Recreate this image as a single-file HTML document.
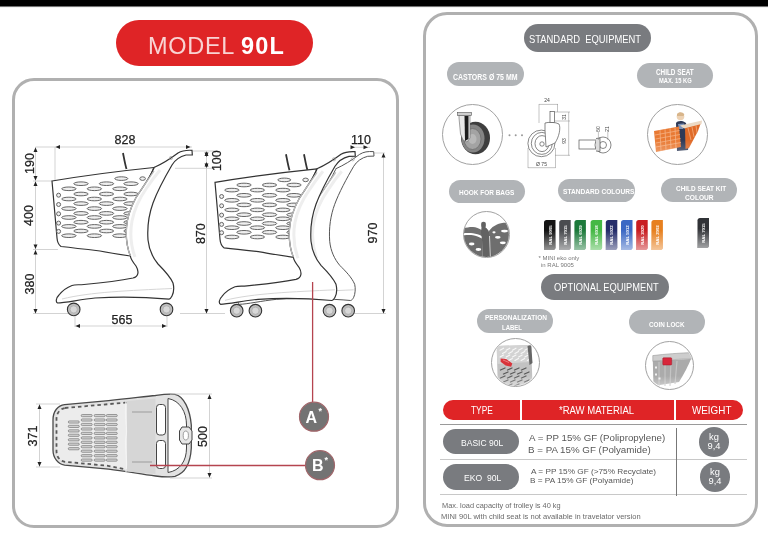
<!DOCTYPE html>
<html><head><meta charset="utf-8">
<style>
*{box-sizing:border-box;margin:0;padding:0}
html,body{width:768px;height:539px;overflow:hidden;background:#fff}
body{position:relative;font-family:"Liberation Sans",sans-serif;will-change:transform}
.a{position:absolute}
.topbar{left:0;top:0;width:768px;height:8px;background:linear-gradient(#000 0,#000 5.6px,#fff 7.6px)}
.title{left:116px;top:20px;width:197px;height:46px;border-radius:23px;background:#df2426;color:#fff;font-size:22px;line-height:47px;text-align:center;white-space:nowrap}
.panel{border:3px solid #b0b0b0}
.pill{display:flex;align-items:center;justify-content:center;text-align:center;color:#fff;white-space:nowrap;border-radius:14px}
.dk{background:#797b7f}
.lt{background:#b1b4b7;color:#f4f4f4}
.circ{border-radius:50%;border:1.8px solid #a2a2a2;background:#fff;overflow:hidden}
.t{white-space:nowrap}
.lb{white-space:nowrap;line-height:1;color:#fff;transform-origin:0 0}
</style></head><body>
<div class="a topbar"></div>
<div class="a title" style="background:#df2426"></div><div class="a t" style="left:148px;top:31px;font-size:23.5px;line-height:30px;color:#fff"><span style="color:rgba(255,255,255,0.8);letter-spacing:0.7px">MODEL</span><span style="margin-left:6px;font-weight:bold;letter-spacing:1.1px">90L</span></div>

<div class="a panel" style="left:12px;top:78px;width:387px;height:450px;border-radius:22px"></div>
<div class="a panel" style="left:423px;top:12px;width:335px;height:515px;border-radius:24px"></div>

<!--TOP-->
<svg class="a" style="left:0;top:0" width="768" height="539" viewBox="0 0 768 539">
<path d="M64.6,404.6 L108.6,400.7 C130,398.5 145,396.5 155.5,395.5 C162,394.5 168,393.5 175,394.3 C184,396 190,410 191.3,425 L191.3,448 C190.5,462 186,473 175,476.3 C168,477.5 162,476.8 155.5,476 C140,474 125,471 108.6,469.1 L64.6,465.2 C58,464 53,458 53,450 L53,420 C53,411 58,405.5 64.6,404.6 Z" fill="#e2e2e2" stroke="#4a4a4a" stroke-width="1.3"/>
<path d="M65,408 L108,404.2 L134,401.8 L134,471 L108,465.8 L65,461.8 C60,461 56.5,457 56.5,451 L56.5,419 C56.5,413 60,409 65,408 Z" fill="#ececec" stroke="#5a5a5a" stroke-width="1.8" stroke-dasharray="3.5 3"/>
<path d="M127,401 L155.5,398.5 L155.5,474 L127,471.5 Z" fill="#d6d6d6"/>
<path d="M126,401 C124,420 128,430 126,436 C124,445 128,460 126,472" fill="none" stroke="#f4f4f4" stroke-width="1.2"/>
<g fill="#d2d2d2" stroke="#666" stroke-width="0.6"><rect x="68.3" y="420.9" width="11" height="2.2" rx="1.1"/><rect x="68.3" y="425.3" width="11" height="2.2" rx="1.1"/><rect x="68.3" y="429.8" width="11" height="2.2" rx="1.1"/><rect x="68.3" y="434.2" width="11" height="2.2" rx="1.1"/><rect x="68.3" y="438.7" width="11" height="2.2" rx="1.1"/><rect x="68.3" y="443.1" width="11" height="2.2" rx="1.1"/><rect x="68.3" y="447.6" width="11" height="2.2" rx="1.1"/><rect x="81.2" y="414.5" width="11" height="2.2" rx="1.1"/><rect x="81.2" y="418.9" width="11" height="2.2" rx="1.1"/><rect x="81.2" y="423.4" width="11" height="2.2" rx="1.1"/><rect x="81.2" y="427.9" width="11" height="2.2" rx="1.1"/><rect x="81.2" y="432.3" width="11" height="2.2" rx="1.1"/><rect x="81.2" y="436.8" width="11" height="2.2" rx="1.1"/><rect x="81.2" y="441.2" width="11" height="2.2" rx="1.1"/><rect x="81.2" y="445.6" width="11" height="2.2" rx="1.1"/><rect x="81.2" y="450.1" width="11" height="2.2" rx="1.1"/><rect x="81.2" y="454.6" width="11" height="2.2" rx="1.1"/><rect x="81.2" y="459.0" width="11" height="2.2" rx="1.1"/><rect x="94.2" y="414.5" width="11" height="2.2" rx="1.1"/><rect x="94.2" y="418.9" width="11" height="2.2" rx="1.1"/><rect x="94.2" y="423.4" width="11" height="2.2" rx="1.1"/><rect x="94.2" y="427.9" width="11" height="2.2" rx="1.1"/><rect x="94.2" y="432.3" width="11" height="2.2" rx="1.1"/><rect x="94.2" y="436.8" width="11" height="2.2" rx="1.1"/><rect x="94.2" y="441.2" width="11" height="2.2" rx="1.1"/><rect x="94.2" y="445.6" width="11" height="2.2" rx="1.1"/><rect x="94.2" y="450.1" width="11" height="2.2" rx="1.1"/><rect x="94.2" y="454.6" width="11" height="2.2" rx="1.1"/><rect x="94.2" y="459.0" width="11" height="2.2" rx="1.1"/><rect x="106.3" y="414.5" width="11" height="2.2" rx="1.1"/><rect x="106.3" y="418.9" width="11" height="2.2" rx="1.1"/><rect x="106.3" y="423.4" width="11" height="2.2" rx="1.1"/><rect x="106.3" y="427.9" width="11" height="2.2" rx="1.1"/><rect x="106.3" y="432.3" width="11" height="2.2" rx="1.1"/><rect x="106.3" y="436.8" width="11" height="2.2" rx="1.1"/><rect x="106.3" y="441.2" width="11" height="2.2" rx="1.1"/><rect x="106.3" y="445.6" width="11" height="2.2" rx="1.1"/><rect x="106.3" y="450.1" width="11" height="2.2" rx="1.1"/><rect x="106.3" y="454.6" width="11" height="2.2" rx="1.1"/><rect x="106.3" y="459.0" width="11" height="2.2" rx="1.1"/></g>
<g fill="#fff" stroke="#444" stroke-width="1">
<rect x="156.5" y="404.5" width="9" height="30.5" rx="3"/>
<rect x="156.5" y="440.5" width="9" height="28" rx="3"/>
<path d="M168,398.5 C180,400.5 186.5,412 186.5,425 L186.5,448 C186.5,461 180,470.5 168,472.5 Z"/>
</g>
<path d="M182,427 L189,427 L192,431 L192,440 L189,444 L182,444 L179.5,440 L179.5,431 Z" fill="#e6e6e6" stroke="#444" stroke-width="1"/>
<ellipse cx="185.8" cy="435.5" rx="2.6" ry="4.5" fill="#fff" stroke="#777" stroke-width="0.7"/>
<g stroke="#777" stroke-width="0.6" fill="none"><path d="M132,412 H152 M132,462 H152"/></g>
</svg>
<!--/TOP-->
<!--DIMS-->
<svg class="a" style="left:0;top:0" width="768" height="539" viewBox="0 0 768 539">
<defs></defs>
<g stroke="#c8c8c8" stroke-width="0.8" fill="none">
<!-- cart1 dims -->
<path d="M35.5,147 H192"/>
<path d="M55,147 V181"/>
<path d="M35.5,147 V313.5"/>
<path d="M33,181 H52"/>
<path d="M33,249.5 H58"/>
<path d="M33,313.5 H72"/>
<path d="M75,310 V327 M167,310 V327"/>
<path d="M75,326 H167"/>
<path d="M193,151 H215 M175,168.3 H215"/>
<path d="M206.5,151 V313.5"/>
<path d="M180,313.5 H225"/>
<!-- cart2 dims -->
<path d="M374,153 H385"/>
<path d="M383.5,153 V313.5"/>
<path d="M352,313.5 H386"/>
<path d="M351,147.3 H370"/>
<!-- top view dims -->
<path d="M39.5,404 V467 M36,404 H60 M36,467 H60"/>
<path d="M209.5,394 V478 M170,394 H212 M170,478 H212"/>
</g>
<g fill="#222">
<g transform="translate(55.5,147) rotate(90)" ><path d="M0,0 L-2,-4.5 L2,-4.5 Z" fill="#222"/></g>
<g transform="translate(190.5,147) rotate(-90)" ><path d="M0,0 L-2,-4.5 L2,-4.5 Z" fill="#222"/></g>
<g transform="translate(35.5,147.5) rotate(180)" ><path d="M0,0 L-2,-4.5 L2,-4.5 Z" fill="#222"/></g>
<g transform="translate(35.5,180.5)" ><path d="M0,0 L-2,-4.5 L2,-4.5 Z" fill="#222"/></g>
<g transform="translate(35.5,181.5) rotate(180)" ><path d="M0,0 L-2,-4.5 L2,-4.5 Z" fill="#222"/></g>
<g transform="translate(35.5,249)" ><path d="M0,0 L-2,-4.5 L2,-4.5 Z" fill="#222"/></g>
<g transform="translate(35.5,250) rotate(180)" ><path d="M0,0 L-2,-4.5 L2,-4.5 Z" fill="#222"/></g>
<g transform="translate(35.5,313.5)" ><path d="M0,0 L-2,-4.5 L2,-4.5 Z" fill="#222"/></g>
<g transform="translate(75.5,326) rotate(90)" ><path d="M0,0 L-2,-4.5 L2,-4.5 Z" fill="#222"/></g>
<g transform="translate(166.5,326) rotate(-90)" ><path d="M0,0 L-2,-4.5 L2,-4.5 Z" fill="#222"/></g>
<g transform="translate(206.5,151.5) rotate(180)" ><path d="M0,0 L-2,-4.5 L2,-4.5 Z" fill="#222"/></g>
<g transform="translate(206.5,157)" ><path d="M0,0 L-2,-4.5 L2,-4.5 Z" fill="#222"/></g>
<g transform="translate(206.5,162) rotate(180)" ><path d="M0,0 L-2,-4.5 L2,-4.5 Z" fill="#222"/></g>
<g transform="translate(206.5,168)" ><path d="M0,0 L-2,-4.5 L2,-4.5 Z" fill="#222"/></g>
<g transform="translate(206.5,313.5)" ><path d="M0,0 L-2,-4.5 L2,-4.5 Z" fill="#222"/></g>
<g transform="translate(383.5,153) rotate(180)" ><path d="M0,0 L-2,-4.5 L2,-4.5 Z" fill="#222"/></g>
<g transform="translate(383.5,313.5)" ><path d="M0,0 L-2,-4.5 L2,-4.5 Z" fill="#222"/></g>
<g transform="translate(355,147.3) rotate(-90)" ><path d="M0,0 L-2,-4.5 L2,-4.5 Z" fill="#222"/></g>
<g transform="translate(368,147.3) rotate(-90)" ><path d="M0,0 L-2,-4.5 L2,-4.5 Z" fill="#222"/></g>
<g transform="translate(39.5,404.5) rotate(180)" ><path d="M0,0 L-2,-4.5 L2,-4.5 Z" fill="#222"/></g>
<g transform="translate(39.5,466.5)" ><path d="M0,0 L-2,-4.5 L2,-4.5 Z" fill="#222"/></g>
<g transform="translate(209.5,394.5) rotate(180)" ><path d="M0,0 L-2,-4.5 L2,-4.5 Z" fill="#222"/></g>
<g transform="translate(209.5,477.5)" ><path d="M0,0 L-2,-4.5 L2,-4.5 Z" fill="#222"/></g>
</g>
<g font-family="Liberation Sans" font-size="12.5" fill="#222" stroke="#222" stroke-width="0.25" text-anchor="middle">
<text x="125" y="144">828</text>
<text x="122" y="324">565</text>
<text x="361" y="144">110</text>
<text transform="translate(33.6,163.5) rotate(-90)">190</text>
<text transform="translate(33.3,215.5) rotate(-90)">400</text>
<text transform="translate(33.5,284) rotate(-90)">380</text>
<text transform="translate(205,233.7) rotate(-90)">870</text>
<text transform="translate(220.5,160.7) rotate(-90)">100</text>
<text transform="translate(376.5,233) rotate(-90)">970</text>
<text transform="translate(36.5,436) rotate(-90)">371</text>
<text transform="translate(206.6,436.5) rotate(-90)">500</text>
</g>
</svg>
<!--/DIMS-->
<!--CARTS-->
<svg class="a" style="left:0;top:0" width="768" height="539" viewBox="0 0 768 539">
<defs>


</defs>
<!-- cart 1 -->
<path d="M123,153 C124,158 125,164 126.5,169" stroke="#333" stroke-width="1.8" fill="none"/>
<g ><g>
<path d="M52,181 Q100,173 154,167.5 L126,230 L130.4,256 Q110,253 100,251 Q75,248 61,246.5 Q57.5,244 57,238 Z" fill="#fff" stroke="#333" stroke-width="1.2"/>
<g fill="#efefef" stroke="#5e5e5e" stroke-width="0.95"><ellipse cx="68.9" cy="188.8" rx="7.2" ry="1.8"/><ellipse cx="94.4" cy="188.8" rx="7.2" ry="1.8"/><ellipse cx="119.9" cy="188.8" rx="7.2" ry="1.8"/><ellipse cx="68.9" cy="199" rx="7.2" ry="1.8"/><ellipse cx="94.4" cy="199" rx="7.2" ry="1.8"/><ellipse cx="119.9" cy="199" rx="7.2" ry="1.8"/><ellipse cx="68.9" cy="208.6" rx="7.2" ry="1.8"/><ellipse cx="94.4" cy="208.6" rx="7.2" ry="1.8"/><ellipse cx="119.9" cy="208.6" rx="7.2" ry="1.8"/><ellipse cx="68.9" cy="217.5" rx="7.2" ry="1.8"/><ellipse cx="94.4" cy="217.5" rx="7.2" ry="1.8"/><ellipse cx="119.9" cy="217.5" rx="7.2" ry="1.8"/><ellipse cx="68.9" cy="226.4" rx="7.2" ry="1.8"/><ellipse cx="94.4" cy="226.4" rx="7.2" ry="1.8"/><ellipse cx="119.9" cy="226.4" rx="7.2" ry="1.8"/><ellipse cx="68.9" cy="235.7" rx="7.2" ry="1.8"/><ellipse cx="94.4" cy="235.7" rx="7.2" ry="1.8"/><ellipse cx="119.9" cy="235.7" rx="7.2" ry="1.8"/><ellipse cx="81" cy="183.7" rx="7.2" ry="1.8"/><ellipse cx="106.5" cy="183.7" rx="7.2" ry="1.8"/><ellipse cx="131" cy="183.7" rx="7.2" ry="1.8"/><ellipse cx="81" cy="194" rx="7.2" ry="1.8"/><ellipse cx="106.5" cy="194" rx="7.2" ry="1.8"/><ellipse cx="131" cy="194" rx="7.2" ry="1.8"/><ellipse cx="81" cy="203.6" rx="7.2" ry="1.8"/><ellipse cx="106.5" cy="203.6" rx="7.2" ry="1.8"/><ellipse cx="131" cy="203.6" rx="7.2" ry="1.8"/><ellipse cx="81" cy="213.4" rx="7.2" ry="1.8"/><ellipse cx="106.5" cy="213.4" rx="7.2" ry="1.8"/><ellipse cx="131" cy="213.4" rx="7.2" ry="1.8"/><ellipse cx="81" cy="222.2" rx="7.2" ry="1.8"/><ellipse cx="106.5" cy="222.2" rx="7.2" ry="1.8"/><ellipse cx="131" cy="222.2" rx="7.2" ry="1.8"/><ellipse cx="81" cy="231" rx="7.2" ry="1.8"/><ellipse cx="106.5" cy="231" rx="7.2" ry="1.8"/><ellipse cx="131" cy="231" rx="7.2" ry="1.8"/><ellipse cx="121.3" cy="178.6" rx="6.5" ry="1.8"/><ellipse cx="142.6" cy="178.6" rx="2.8" ry="1.8"/><circle cx="58.6" cy="195.2" r="2"/><circle cx="58.6" cy="204.5" r="2"/><circle cx="58.6" cy="213.8" r="2"/><circle cx="58.6" cy="223.1" r="2"/><circle cx="58.6" cy="231.4" r="2"/></g>
</g></g>
<g stroke="#333" stroke-width="1.2"><g>
<path d="M154,167.5 C162,164 170,159 178,153 C182,150.5 186,150 192,150.3 L192.3,154.8 L186,155 C180,156.5 175,160 172,165 C165,177 157,192 153,203 C149,214 147,226 148,240 C149,250 153,258 158,264 C164,270 170,276 173,283 C174,287 173.5,293 172,296 C171,298 170,299 169,299.2 C150,297.5 120,296.5 95,298 C80,299.5 65,303 57.5,303 C55.5,302 56,298 59,295 C63,290 68,287 72,285.5 C75,284.5 78,285 84,284.5 C100,283 118,281 133,278 C139,276.5 139,271 136,266 C132,261 130.5,258 130.4,256 C126.5,246 125.5,232 127.3,221 C129,212 134,199 140.6,190.6 C145,184 150,177 154,168 Z" fill="#fff"/>
<path d="M130.4,256 C126.5,246 125.5,232 127.3,221 C129,212 134,199 140.6,190.6 C145,184 150,177 154,171" fill="none" stroke="#bbb" stroke-width="1.3"/><path d="M135,257 C131,246 130,232 132,221 C134,211 139,199 146,189 C150,183 155,176 160,170" fill="none" stroke="#eee" stroke-width="3"/>
<path d="M62,299 C90,292 130,290.5 172,288.5" fill="none" stroke="#d6d6d6" stroke-width="1"/>
<circle cx="171" cy="158" r="1.6" fill="none" stroke="#999" stroke-width="0.6"/>
<g stroke="#333" stroke-width="1.1"><circle cx="73.7" cy="309.4" r="6.3" fill="#bdbdbd"/><circle cx="166.5" cy="309.4" r="6.3" fill="#bdbdbd"/></g>
<g fill="#d8d8d8" stroke="#999" stroke-width="0.5"><circle cx="73.7" cy="309.4" r="3.6"/><circle cx="166.5" cy="309.4" r="3.6"/></g>
</g></g>
<!-- cart 2 -->
<g transform="translate(163,1.3)">
<path d="M123,153 C124,158 125,164 126.5,169" stroke="#333" stroke-width="1.8" fill="none"/>
<path d="M141,153 C142,158 143,164 144.5,169" stroke="#333" stroke-width="1.8" fill="none"/>
<g ><g>
<path d="M52,181 Q100,173 154,167.5 L126,230 L130.4,256 Q110,253 100,251 Q75,248 61,246.5 Q57.5,244 57,238 Z" fill="#fff" stroke="#333" stroke-width="1.2"/>
<g fill="#efefef" stroke="#5e5e5e" stroke-width="0.95"><ellipse cx="68.9" cy="188.8" rx="7.2" ry="1.8"/><ellipse cx="94.4" cy="188.8" rx="7.2" ry="1.8"/><ellipse cx="119.9" cy="188.8" rx="7.2" ry="1.8"/><ellipse cx="68.9" cy="199" rx="7.2" ry="1.8"/><ellipse cx="94.4" cy="199" rx="7.2" ry="1.8"/><ellipse cx="119.9" cy="199" rx="7.2" ry="1.8"/><ellipse cx="68.9" cy="208.6" rx="7.2" ry="1.8"/><ellipse cx="94.4" cy="208.6" rx="7.2" ry="1.8"/><ellipse cx="119.9" cy="208.6" rx="7.2" ry="1.8"/><ellipse cx="68.9" cy="217.5" rx="7.2" ry="1.8"/><ellipse cx="94.4" cy="217.5" rx="7.2" ry="1.8"/><ellipse cx="119.9" cy="217.5" rx="7.2" ry="1.8"/><ellipse cx="68.9" cy="226.4" rx="7.2" ry="1.8"/><ellipse cx="94.4" cy="226.4" rx="7.2" ry="1.8"/><ellipse cx="119.9" cy="226.4" rx="7.2" ry="1.8"/><ellipse cx="68.9" cy="235.7" rx="7.2" ry="1.8"/><ellipse cx="94.4" cy="235.7" rx="7.2" ry="1.8"/><ellipse cx="119.9" cy="235.7" rx="7.2" ry="1.8"/><ellipse cx="81" cy="183.7" rx="7.2" ry="1.8"/><ellipse cx="106.5" cy="183.7" rx="7.2" ry="1.8"/><ellipse cx="131" cy="183.7" rx="7.2" ry="1.8"/><ellipse cx="81" cy="194" rx="7.2" ry="1.8"/><ellipse cx="106.5" cy="194" rx="7.2" ry="1.8"/><ellipse cx="131" cy="194" rx="7.2" ry="1.8"/><ellipse cx="81" cy="203.6" rx="7.2" ry="1.8"/><ellipse cx="106.5" cy="203.6" rx="7.2" ry="1.8"/><ellipse cx="131" cy="203.6" rx="7.2" ry="1.8"/><ellipse cx="81" cy="213.4" rx="7.2" ry="1.8"/><ellipse cx="106.5" cy="213.4" rx="7.2" ry="1.8"/><ellipse cx="131" cy="213.4" rx="7.2" ry="1.8"/><ellipse cx="81" cy="222.2" rx="7.2" ry="1.8"/><ellipse cx="106.5" cy="222.2" rx="7.2" ry="1.8"/><ellipse cx="131" cy="222.2" rx="7.2" ry="1.8"/><ellipse cx="81" cy="231" rx="7.2" ry="1.8"/><ellipse cx="106.5" cy="231" rx="7.2" ry="1.8"/><ellipse cx="131" cy="231" rx="7.2" ry="1.8"/><ellipse cx="121.3" cy="178.6" rx="6.5" ry="1.8"/><ellipse cx="142.6" cy="178.6" rx="2.8" ry="1.8"/><circle cx="58.6" cy="195.2" r="2"/><circle cx="58.6" cy="204.5" r="2"/><circle cx="58.6" cy="213.8" r="2"/><circle cx="58.6" cy="223.1" r="2"/><circle cx="58.6" cy="231.4" r="2"/></g>
</g></g>
<g transform="translate(18.7,0)" stroke="#555" stroke-width="1"><g>
<path d="M154,167.5 C162,164 170,159 178,153 C182,150.5 186,150 192,150.3 L192.3,154.8 L186,155 C180,156.5 175,160 172,165 C165,177 157,192 153,203 C149,214 147,226 148,240 C149,250 153,258 158,264 C164,270 170,276 173,283 C174,287 173.5,293 172,296 C171,298 170,299 169,299.2 C150,297.5 120,296.5 95,298 C80,299.5 65,303 57.5,303 C55.5,302 56,298 59,295 C63,290 68,287 72,285.5 C75,284.5 78,285 84,284.5 C100,283 118,281 133,278 C139,276.5 139,271 136,266 C132,261 130.5,258 130.4,256 C126.5,246 125.5,232 127.3,221 C129,212 134,199 140.6,190.6 C145,184 150,177 154,168 Z" fill="#fff"/>
<path d="M130.4,256 C126.5,246 125.5,232 127.3,221 C129,212 134,199 140.6,190.6 C145,184 150,177 154,171" fill="none" stroke="#bbb" stroke-width="1.3"/><path d="M135,257 C131,246 130,232 132,221 C134,211 139,199 146,189 C150,183 155,176 160,170" fill="none" stroke="#eee" stroke-width="3"/>
<path d="M62,299 C90,292 130,290.5 172,288.5" fill="none" stroke="#d6d6d6" stroke-width="1"/>
<circle cx="171" cy="158" r="1.6" fill="none" stroke="#999" stroke-width="0.6"/>
<g stroke="#333" stroke-width="1.1"><circle cx="73.7" cy="309.4" r="6.3" fill="#bdbdbd"/><circle cx="166.5" cy="309.4" r="6.3" fill="#bdbdbd"/></g>
<g fill="#d8d8d8" stroke="#999" stroke-width="0.5"><circle cx="73.7" cy="309.4" r="3.6"/><circle cx="166.5" cy="309.4" r="3.6"/></g>
</g></g>
<g stroke="#333" stroke-width="1.2"><g>
<path d="M154,167.5 C162,164 170,159 178,153 C182,150.5 186,150 192,150.3 L192.3,154.8 L186,155 C180,156.5 175,160 172,165 C165,177 157,192 153,203 C149,214 147,226 148,240 C149,250 153,258 158,264 C164,270 170,276 173,283 C174,287 173.5,293 172,296 C171,298 170,299 169,299.2 C150,297.5 120,296.5 95,298 C80,299.5 65,303 57.5,303 C55.5,302 56,298 59,295 C63,290 68,287 72,285.5 C75,284.5 78,285 84,284.5 C100,283 118,281 133,278 C139,276.5 139,271 136,266 C132,261 130.5,258 130.4,256 C126.5,246 125.5,232 127.3,221 C129,212 134,199 140.6,190.6 C145,184 150,177 154,168 Z" fill="#fff"/>
<path d="M130.4,256 C126.5,246 125.5,232 127.3,221 C129,212 134,199 140.6,190.6 C145,184 150,177 154,171" fill="none" stroke="#bbb" stroke-width="1.3"/><path d="M135,257 C131,246 130,232 132,221 C134,211 139,199 146,189 C150,183 155,176 160,170" fill="none" stroke="#eee" stroke-width="3"/>
<path d="M62,299 C90,292 130,290.5 172,288.5" fill="none" stroke="#d6d6d6" stroke-width="1"/>
<circle cx="171" cy="158" r="1.6" fill="none" stroke="#999" stroke-width="0.6"/>
<g stroke="#333" stroke-width="1.1"><circle cx="73.7" cy="309.4" r="6.3" fill="#bdbdbd"/><circle cx="166.5" cy="309.4" r="6.3" fill="#bdbdbd"/></g>
<g fill="#d8d8d8" stroke="#999" stroke-width="0.5"><circle cx="73.7" cy="309.4" r="3.6"/><circle cx="166.5" cy="309.4" r="3.6"/></g>
</g></g>
</g>
</svg>
<!--/CARTS-->
<!--AB-->
<svg class="a" style="left:0;top:0" width="768" height="539" viewBox="0 0 768 539">
<g stroke="#b5444f" stroke-width="1.3" fill="none">
<path d="M312.6,282 V402"/>
<path d="M150,465.5 H305"/>
</g>
<g fill="#737373" stroke="#a0666a" stroke-width="1.2">
<circle cx="314" cy="416.7" r="14.5"/>
<circle cx="320" cy="465.2" r="14.5"/>
</g>
<g font-family="Liberation Sans" font-weight="bold" fill="#fff">
<text x="305.5" y="422.5" font-size="16">A</text><text x="318.5" y="414" font-size="9">*</text>
<text x="312" y="471" font-size="16">B</text><text x="324.5" y="462.5" font-size="9">*</text>
</g>
</svg>
<!--/AB-->
<!-- right panel pills -->
<div class="a pill dk" style="left:524px;top:24px;width:127px;height:28px;font-size:10px"></div>
<div class="a pill lt" style="left:447px;top:62px;width:77px;height:24px;font-size:8px"></div>
<div class="a pill lt" style="left:637px;top:63px;width:76px;height:25px;font-size:7.5px;line-height:9px;flex-direction:column"></div>

<div class="a circ" style="left:442px;top:104px;width:61px;height:61px"></div>
<div class="a circ" style="left:647px;top:104px;width:61px;height:61px"></div>

<div class="a pill lt" style="left:449px;top:180px;width:76px;height:23px;font-size:7.5px"></div>
<div class="a pill lt" style="left:558px;top:179px;width:77px;height:23px;font-size:7.5px"></div>
<div class="a pill lt" style="left:661px;top:178px;width:76px;height:24px;font-size:7.5px;line-height:9px;flex-direction:column"></div>

<div class="a circ" style="left:463px;top:211px;width:47px;height:47px"></div>

<div class="a pill dk" style="left:541px;top:274px;width:128px;height:26px;font-size:10px"></div>
<div class="a pill lt" style="left:477px;top:309px;width:76px;height:24px;font-size:7.5px;line-height:9.5px;flex-direction:column"></div>
<div class="a pill lt" style="left:629px;top:310px;width:76px;height:24px;font-size:7.5px"></div>

<div class="a circ" style="left:491px;top:338px;width:49px;height:49px"></div>
<div class="a circ" style="left:645px;top:341px;width:49px;height:49px"></div>

<!--RP-->
<svg class="a" style="left:0;top:0" width="768" height="539" viewBox="0 0 768 539">
<defs>
<clipPath id="c1"><circle cx="472.5" cy="134.2" r="29"/></clipPath>
<clipPath id="c2"><circle cx="678" cy="134" r="29"/></clipPath>
<clipPath id="c3"><circle cx="486.4" cy="234.4" r="22.5"/></clipPath>
<clipPath id="c4"><circle cx="515.3" cy="362.5" r="23"/></clipPath>
<clipPath id="c5"><circle cx="669.7" cy="365.3" r="23"/></clipPath>
<linearGradient id="gsh" x1="0" y1="0" x2="0" y2="1"><stop offset="0" stop-color="#fff" stop-opacity="0"/><stop offset="1" stop-color="#fff" stop-opacity="0.55"/></linearGradient>
</defs>
<!-- castor photo -->
<g>
<ellipse cx="475.5" cy="138" rx="14.5" ry="16.2" fill="#3e3e3e"/>
<ellipse cx="473" cy="138.5" rx="11.5" ry="14" fill="#858585"/>
<ellipse cx="472.5" cy="139" rx="8.5" ry="10.5" fill="#a3a3a3" stroke="#6e6e6e" stroke-width="0.8"/>
<ellipse cx="472.5" cy="139" rx="4" ry="5" fill="#b8b8b8"/>
<path d="M459,115 L470,115 L470,138 L467,142 L463,140 L460.5,134 L459,118 Z" fill="#e8e8e8" stroke="#666" stroke-width="0.6"/>
<path d="M464.5,116 L468.5,116 L468.5,139 L465,141 Z" fill="#1c1c1c"/>
<rect x="457.5" y="112.5" width="14" height="3" fill="#cfcfcf" stroke="#555" stroke-width="0.6"/>
</g>
<!-- castor tech drawing -->
<g fill="#999"><circle cx="509.5" cy="135.3" r="1"/><circle cx="515.7" cy="135.3" r="1"/><circle cx="522" cy="135.3" r="1"/></g>
<g fill="none" stroke="#555" stroke-width="0.7">
<ellipse cx="541.4" cy="143.4" rx="13.5" ry="13.3" fill="#fff"/>
<ellipse cx="541.8" cy="143.4" rx="10.5" ry="11"/>
<ellipse cx="542" cy="143.6" rx="7" ry="8"/>
<circle cx="542" cy="144" r="2.2"/>
<path d="M545,123 C548,122 556,122 559,124 C561,128 559,137 555,143 L546,147 L545,130 Z" fill="#fff"/>
<rect x="550" y="111.5" width="4.5" height="11" fill="#fff"/>
<rect x="579" y="140" width="17" height="9" fill="#fff"/>
<circle cx="603" cy="145" r="8" fill="#fff"/>
<circle cx="603" cy="145" r="3.5"/>
<path d="M596,138.5 L600,138 L600,151.5 L596,151" fill="#ddd"/>
</g>
<g fill="none" stroke="#888" stroke-width="0.5">
<path d="M539,104.4 H558 M539,104 V123 M557.5,104 V112 M528,167.7 H555.5 M528,148 V168 M555.5,148 V168 M568.7,112 V155.5 M555,112 H570 M555,121 H570 M555,155.3 H570"/>
<path d="M598.4,131 V140 M607.8,131 V140"/>
</g>
<g font-family="Liberation Sans" font-size="5" fill="#444" text-anchor="middle">
<text x="547" y="102">24</text>
<text x="541.5" y="165.5">Ø 75</text>
<text transform="translate(566,117) rotate(-90)">31</text>
<text transform="translate(566,141) rotate(-90)">93</text>
<text transform="translate(600,129) rotate(-90)">50</text>
<text transform="translate(609,129) rotate(-90)">21</text>
</g>
<!-- child seat photo -->
<g clip-path="url(#c2)">
<path d="M676,123 C677,120.5 683,120 686,123 L689,140 L688,150 L677,151 Z" fill="#2f3a57"/>
<path d="M678,124 L684,123.5 L683,129 L679,129 Z" fill="#7d93b8"/>
<circle cx="680.5" cy="116.5" r="3.8" fill="#edd2b4"/>
<path d="M677,114 C679,111.5 683,112 684.3,114.5 L683.5,116 L677,116 Z" fill="#d8b58a"/>
<path d="M654,131 L679,126.5 L681,147 L656,152 Z" fill="#e97a34"/>
<path d="M685,127 L701,122.5 L698,131 L689,148 L685.5,149 Z" fill="#e06a28"/>
<path d="M680,125.5 L702,120.5 L701.5,124 L684,128.5 Z" fill="#ecd9c4"/>
<g stroke="#f7b88c" stroke-width="0.7" fill="none"><path d="M655,135 L679.5,130.5 M655.5,139 L680,134.5 M656,143 L680.5,138.5 M656,147 L681,142.5 M660,130 L661,151 M665,129 L666,150 M670,128 L671,149 M675,127.5 L676,148.5 M688,128 L691,140 M692,127 L694,137 M696,125.5 L697,133"/></g>
<rect x="645" y="140" width="66" height="30" fill="url(#gsh)"/>
</g>
<!-- hook -->
<g clip-path="url(#c3)">
<path d="M462,228.6 C466,227.6 470,226.8 473,227 C476,227.2 479,228.3 482,230.2 L482,236.2 C479,234.6 476,233.7 473,233.3 C470,232.8 466,233 462,233.4 Z" fill="#707070"/>
<path d="M462,235.5 C466,235 470,234.8 473,235.2 C476,235.7 479,236.8 482,238.6 L482.5,260 L460,260 Z" fill="#6c6c6c"/>
<path d="M489,231 C491,228 494,225.8 497,224.5 C500,223 504,222.5 512,223 L512,260 L489,260 Z" fill="#6e6e6e"/>
<path d="M481.5,227.5 C481,225.5 481,223.5 481.5,222.5 C482.5,221.5 484.5,221.5 485.5,222.5 C486,223.5 486,225.5 485.5,227.5 C487,228.5 488.5,230 489,232 L489.5,240 L492.5,260 L482.5,260 L482,240 L481,232 Z" fill="#626262"/>
<path d="M489.5,236 L490.5,260" stroke="#eee" stroke-width="0.8"/>
<g fill="#fff">
<ellipse cx="471.7" cy="244" rx="2.8" ry="1.4"/>
<ellipse cx="478.4" cy="249.5" rx="2.8" ry="1.4"/>
<ellipse cx="504.5" cy="231.1" rx="3.4" ry="1.4"/>
<ellipse cx="497.8" cy="237.3" rx="2.8" ry="1.4"/>
<ellipse cx="502.8" cy="242.8" rx="3" ry="1.4"/>
<ellipse cx="494" cy="232.3" rx="1.6" ry="1.1"/>
</g>
</g>
<!-- personalization label -->
<g clip-path="url(#c4)">
<path d="M496.7,346 L531.2,345 L532.5,386 L497.8,387 Z" fill="#c2c2c2"/>
<path d="M496.7,346 L531.2,345 L530.5,362 L497.3,364 Z" fill="#d3d3d3"/>
<g stroke="#f7f7f7" stroke-width="1.1" stroke-linecap="round"><path d="M500.0,350.2 L503.6,348.2"/><path d="M506.2,350.2 L509.8,348.2"/><path d="M512.4,350.2 L516.0,348.2"/><path d="M518.6,350.2 L522.2,348.2"/><path d="M524.8,350.2 L528.4,348.2"/><path d="M502.5,353.6 L506.1,351.6"/><path d="M508.7,353.6 L512.3,351.6"/><path d="M514.9,353.6 L518.5,351.6"/><path d="M521.1,353.6 L524.7,351.6"/><path d="M527.3,353.6 L530.9,351.6"/><path d="M500.0,357.0 L503.6,355.0"/><path d="M506.2,357.0 L509.8,355.0"/><path d="M512.4,357.0 L516.0,355.0"/><path d="M518.6,357.0 L522.2,355.0"/><path d="M524.8,357.0 L528.4,355.0"/><path d="M502.5,360.4 L506.1,358.4"/><path d="M508.7,360.4 L512.3,358.4"/><path d="M514.9,360.4 L518.5,358.4"/><path d="M521.1,360.4 L524.7,358.4"/><path d="M527.3,360.4 L530.9,358.4"/></g>
<g stroke="#5a5a5a" stroke-width="1.3" stroke-linecap="round"><path d="M500.5,370.0 L505.0,368.0"/><path d="M507.5,370.0 L512.0,368.0"/><path d="M514.5,370.0 L519.0,368.0"/><path d="M521.5,370.0 L526.0,368.0"/><path d="M503.5,374.0 L508.0,372.0"/><path d="M510.5,374.0 L515.0,372.0"/><path d="M517.5,374.0 L522.0,372.0"/><path d="M524.5,374.0 L529.0,372.0"/><path d="M500.5,378.0 L505.0,376.0"/><path d="M507.5,378.0 L512.0,376.0"/><path d="M514.5,378.0 L519.0,376.0"/><path d="M521.5,378.0 L526.0,376.0"/><path d="M503.5,382.0 L508.0,380.0"/><path d="M510.5,382.0 L515.0,380.0"/><path d="M517.5,382.0 L522.0,380.0"/><path d="M524.5,382.0 L529.0,380.0"/><path d="M500.5,386.0 L505.0,384.0"/><path d="M507.5,386.0 L512.0,384.0"/><path d="M514.5,386.0 L519.0,384.0"/><path d="M521.5,386.0 L526.0,384.0"/></g>
<path d="M527.5,346 L531.2,345 L532.5,363 L529.5,365 Z" fill="#666"/>
<path d="M500.6,358.4 L506.1,358.9 L512.3,363.4 L511.1,366.7 L505.6,365.6 L500.6,361.7 Z" fill="#d9333b"/>
<path d="M503,360 L509,362.5" stroke="#f08a8a" stroke-width="0.8"/>
<rect x="490" y="375" width="50" height="15" fill="url(#gsh)"/>
</g>
<!-- coin lock -->
<g clip-path="url(#c5)">
<path d="M652.8,361 L691,359 C688,366 684,374 679,382 L653.5,386 Z" fill="#ababab"/>
<g stroke="#c4c4c4" stroke-width="1.2"><path d="M659,362 L659,386 M665,362 L665,386 M671,361.5 L670,386 M677,361 L675,384"/></g>
<path d="M652.8,355.6 C665,354 680,353 694,352.5 L694,358.8 C680,359 665,360 652.8,361.2 Z" fill="#cdcdcd" stroke="#9a9a9a" stroke-width="0.6"/>
<rect x="662.8" y="357.8" width="8.9" height="7.2" rx="0.8" fill="#d8263b" stroke="#a01525" stroke-width="0.5"/>
<g fill="#f2f2f2"><rect x="655" y="366.5" width="2" height="2"/><rect x="655" y="373.5" width="2" height="2"/><rect x="658.5" y="377.5" width="2" height="2"/></g>
<rect x="645" y="376" width="50" height="15" fill="url(#gsh)"/>
</g>
<!-- swatches -->
<defs>
<linearGradient id="sw" x1="0" y1="0" x2="0" y2="1"><stop offset="0.35" stop-color="#fff" stop-opacity="0"/><stop offset="1" stop-color="#fff" stop-opacity="0.55"/></linearGradient>

</defs>
<g>
<g transform="translate(544,220)" fill="#141414"><path d="M2.5,0 H11.5 V27.5 C11.5,29 10.5,30 9,30 H0 V2.5 C0,1 1,0 2.5,0 Z"/></g>
<g transform="translate(559.2,220)" fill="#4a4c50"><path d="M2.5,0 H11.5 V27.5 C11.5,29 10.5,30 9,30 H0 V2.5 C0,1 1,0 2.5,0 Z"/></g>
<g transform="translate(574.4,220)" fill="#1d7a3b"><path d="M2.5,0 H11.5 V27.5 C11.5,29 10.5,30 9,30 H0 V2.5 C0,1 1,0 2.5,0 Z"/></g>
<g transform="translate(590.6,220)" fill="#45b845"><path d="M2.5,0 H11.5 V27.5 C11.5,29 10.5,30 9,30 H0 V2.5 C0,1 1,0 2.5,0 Z"/></g>
<g transform="translate(605.8,220)" fill="#252d6a"><path d="M2.5,0 H11.5 V27.5 C11.5,29 10.5,30 9,30 H0 V2.5 C0,1 1,0 2.5,0 Z"/></g>
<g transform="translate(621,220)" fill="#3b68c4"><path d="M2.5,0 H11.5 V27.5 C11.5,29 10.5,30 9,30 H0 V2.5 C0,1 1,0 2.5,0 Z"/></g>
<g transform="translate(636.2,220)" fill="#c81e22"><path d="M2.5,0 H11.5 V27.5 C11.5,29 10.5,30 9,30 H0 V2.5 C0,1 1,0 2.5,0 Z"/></g>
<g transform="translate(651.4,220)" fill="#e7801f"><path d="M2.5,0 H11.5 V27.5 C11.5,29 10.5,30 9,30 H0 V2.5 C0,1 1,0 2.5,0 Z"/></g>
<g transform="translate(697.5,218)" fill="#303236"><path d="M2.5,0 H11.5 V27.5 C11.5,29 10.5,30 9,30 H0 V2.5 C0,1 1,0 2.5,0 Z"/></g>
<g fill="url(#sw)">
<g transform="translate(544,220)" ><path d="M2.5,0 H11.5 V27.5 C11.5,29 10.5,30 9,30 H0 V2.5 C0,1 1,0 2.5,0 Z"/></g><g transform="translate(559.2,220)" ><path d="M2.5,0 H11.5 V27.5 C11.5,29 10.5,30 9,30 H0 V2.5 C0,1 1,0 2.5,0 Z"/></g><g transform="translate(574.4,220)" ><path d="M2.5,0 H11.5 V27.5 C11.5,29 10.5,30 9,30 H0 V2.5 C0,1 1,0 2.5,0 Z"/></g><g transform="translate(590.6,220)" ><path d="M2.5,0 H11.5 V27.5 C11.5,29 10.5,30 9,30 H0 V2.5 C0,1 1,0 2.5,0 Z"/></g><g transform="translate(605.8,220)" ><path d="M2.5,0 H11.5 V27.5 C11.5,29 10.5,30 9,30 H0 V2.5 C0,1 1,0 2.5,0 Z"/></g><g transform="translate(621,220)" ><path d="M2.5,0 H11.5 V27.5 C11.5,29 10.5,30 9,30 H0 V2.5 C0,1 1,0 2.5,0 Z"/></g><g transform="translate(636.2,220)" ><path d="M2.5,0 H11.5 V27.5 C11.5,29 10.5,30 9,30 H0 V2.5 C0,1 1,0 2.5,0 Z"/></g><g transform="translate(651.4,220)" ><path d="M2.5,0 H11.5 V27.5 C11.5,29 10.5,30 9,30 H0 V2.5 C0,1 1,0 2.5,0 Z"/></g><g transform="translate(697.5,218)" ><path d="M2.5,0 H11.5 V27.5 C11.5,29 10.5,30 9,30 H0 V2.5 C0,1 1,0 2.5,0 Z"/></g>
</g>
</g>
<g font-family="Liberation Sans" font-weight="bold" font-size="4.3" fill="#fff" text-anchor="middle">
<text transform="translate(551.5,235) rotate(-90)">RAL 9005</text>
<text transform="translate(566.7,235) rotate(-90)">RAL 7015</text>
<text transform="translate(581.9,235) rotate(-90)">RAL 6029</text>
<text transform="translate(598.1,235) rotate(-90)">RAL 6018</text>
<text transform="translate(613.3,235) rotate(-90)">RAL 5022</text>
<text transform="translate(628.5,235) rotate(-90)">RAL 5012</text>
<text transform="translate(643.7,235) rotate(-90)">RAL 3020</text>
<text transform="translate(658.9,235) rotate(-90)">RAL 2003</text>
<text transform="translate(705,233) rotate(-90)">RAL 7015</text>
</g>
<text x="538.5" y="260" font-family="Liberation Sans" font-size="6" fill="#777">* MINI eko only</text>
<text x="541" y="267" font-family="Liberation Sans" font-size="6" fill="#777">in RAL 9005</text>
</svg>
<!--/RP-->
<!-- table -->
<div class="a" style="left:443px;top:400px;width:300px;height:20px;border-radius:10px;background:#df2426"></div>
<div class="a" style="left:520px;top:400px;width:2px;height:20px;background:#fff"></div>
<div class="a" style="left:674px;top:400px;width:2px;height:20px;background:#fff"></div>
<div class="a" style="left:440px;top:424px;width:307px;height:1px;background:#9a9a9a"></div>
<div class="a" style="left:440px;top:459px;width:307px;height:1px;background:#c8c8c8"></div>
<div class="a" style="left:440px;top:494px;width:307px;height:1px;background:#c8c8c8"></div>
<div class="a" style="left:676px;top:428px;width:1px;height:68px;background:#777"></div>

<div class="a pill dk" style="left:443px;top:429px;width:76px;height:25px;border-radius:13px;font-size:8.5px"></div>
<div class="a pill dk" style="left:443px;top:464px;width:76px;height:26px;border-radius:13px;font-size:8.5px"></div>
<div class="a pill dk" style="left:699px;top:427px;width:30px;height:29.5px;border-radius:50%;font-size:9.3px;line-height:9px;flex-direction:column">kg<span>9,4</span></div>
<div class="a pill dk" style="left:700px;top:462px;width:30px;height:29.5px;border-radius:50%;font-size:9.3px;line-height:9px;flex-direction:column">kg<span>9,4</span></div>


<!--ROWTXT-->
<div class="a lb" style="left:529.3px;top:434.0px;font-size:9.3px;transform:scaleX(1.045);color:#575757">A = PP 15% GF (Polipropylene)</div>
<div class="a lb" style="left:528.3px;top:445.7px;font-size:9.3px;transform:scaleX(1.05);color:#575757">B = PA 15% GF (Polyamide)</div>
<div class="a lb" style="left:530.9px;top:468.0px;font-size:7.6px;transform:scaleX(1.083);color:#575757">A = PP 15% GF (&gt;75% Recyclate)</div>
<div class="a lb" style="left:529.8px;top:477.1px;font-size:7.6px;transform:scaleX(1.084);color:#575757">B = PA 15% GF (Polyamide)</div>
<div class="a lb" style="left:442.2px;top:502.8px;font-size:6.6px;transform:scaleX(1.12);color:#6a6a6a">Max. load capacity of trolley is 40 kg</div>
<div class="a lb" style="left:440.9px;top:513.5px;font-size:6.6px;transform:scaleX(1.144);color:#6a6a6a">MINI 90L with child seat is not available in travelator version</div>
<!--/ROWTXT-->
<!--LABELS-->
<div class="a lb" style="left:528.6px;top:33.6px;font-size:10.5px;transform:scaleX(0.895)">STANDARD&nbsp; EQUIPMENT</div>
<div class="a lb" style="left:453.0px;top:73.3px;font-size:8.3px;transform:scaleX(0.84);font-weight:bold">CASTORS Ø 75 MM</div>
<div class="a lb" style="left:656.0px;top:67.5px;font-size:8.4px;transform:scaleX(0.76);font-weight:bold">CHILD SEAT</div>
<div class="a lb" style="left:658.7px;top:78.4px;font-size:6.8px;transform:scaleX(0.85);font-weight:bold">MAX. 15 KG</div>
<div class="a lb" style="left:458.8px;top:188.5px;font-size:8px;transform:scaleX(0.809);font-weight:bold">HOOK FOR BAGS</div>
<div class="a lb" style="left:562.9px;top:187.7px;font-size:8px;transform:scaleX(0.826);font-weight:bold">STANDARD COLOURS</div>
<div class="a lb" style="left:675.8px;top:184.8px;font-size:7.8px;transform:scaleX(0.823);font-weight:bold">CHILD SEAT KIT</div>
<div class="a lb" style="left:684.8px;top:194.3px;font-size:7.5px;transform:scaleX(0.881);font-weight:bold">COLOUR</div>
<div class="a lb" style="left:553.8px;top:282.2px;font-size:10.5px;transform:scaleX(0.887)">OPTIONAL EQUIPMENT</div>
<div class="a lb" style="left:485.2px;top:314.3px;font-size:7px;transform:scaleX(0.933);font-weight:bold">PERSONALIZATION</div>
<div class="a lb" style="left:501.9px;top:324.4px;font-size:7px;transform:scaleX(0.857);font-weight:bold">LABEL</div>
<div class="a lb" style="left:648.9px;top:321.3px;font-size:8px;transform:scaleX(0.791);font-weight:bold">COIN LOCK</div>
<div class="a lb" style="left:470.8px;top:405.3px;font-size:10.5px;transform:scaleX(0.796)">TYPE</div>
<div class="a lb" style="left:559.0px;top:405.0px;font-size:10.5px;transform:scaleX(0.907)">*RAW MATERIAL</div>
<div class="a lb" style="left:692.3px;top:404.8px;font-size:10.5px;transform:scaleX(0.938)">WEIGHT</div>
<div class="a lb" style="left:460.8px;top:437.8px;font-size:9.8px;transform:scaleX(0.872)">BASIC 90L</div>
<div class="a lb" style="left:463.9px;top:474.2px;font-size:9.2px;transform:scaleX(0.935)">EKO&nbsp; 90L</div>
<!--/LABELS-->
</body></html>
